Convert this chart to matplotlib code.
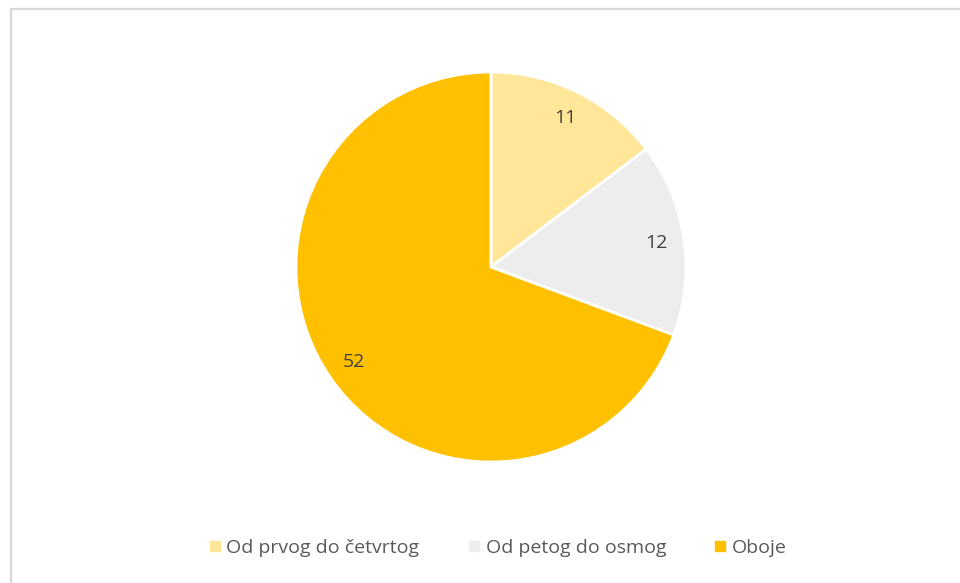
import matplotlib.pyplot as plt
from matplotlib.lines import Line2D
from matplotlib.patches import Rectangle

# Podaci
kategorije = ["Od prvog do četvrtog", "Od petog do osmog", "Oboje"]
vrijednosti = [11, 12, 52]
boje = ["#FFE699", "#EDEDED", "#FFC000"]

plt.rcParams['font.family'] = ['Open Sans', 'DejaVu Sans']

fig = plt.figure(figsize=(9.6, 5.83), dpi=100)

# okvir grafikona (desno i dolje je odrezan)
fig.patches.append(Rectangle((10.5 / 960, -0.1), 1.1, 1 - 9.5 / 583 + 0.1,
                             transform=fig.transFigure, fill=False,
                             edgecolor="#D9D9D9", linewidth=1.6))

ax = fig.add_axes([0.3083, 0.2075, 0.40625, 0.669])
wedges, texts = ax.pie(vrijednosti, colors=boje, startangle=90, counterclock=False,
                       labels=[str(v) for v in vrijednosti], labeldistance=0.855,
                       wedgeprops=dict(edgecolor="white", linewidth=2),
                       textprops=dict(color="#404040", fontsize=14))
for t in texts:
    t.set_horizontalalignment("center")
    t.set_verticalalignment("center")
ax.set_aspect("auto")
ax.set_xlim(-1, 1)
ax.set_ylim(-1, 1)

# Legenda
ruckice = [Line2D([], [], marker="s", linestyle="none", markersize=7,
                  markerfacecolor=c, markeredgecolor=c) for c in boje]
fig.legend(ruckice, kategorije, loc="center", bbox_to_anchor=(497 / 960, 1 - 548 / 583),
           ncol=3, frameon=False, fontsize=14, labelcolor="#595959",
           handletextpad=0.2, columnspacing=2.4, handlelength=0.8)

plt.savefig("out.png", dpi=100)
